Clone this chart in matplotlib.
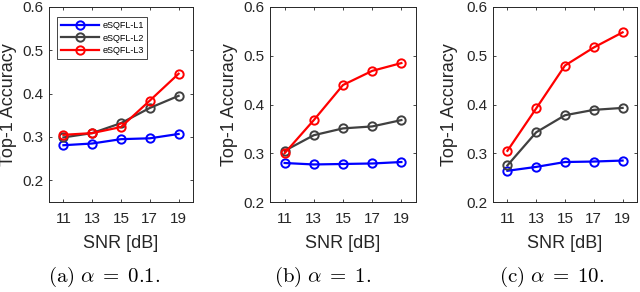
import matplotlib
matplotlib.use("Agg")
import matplotlib.pyplot as plt

plt.rcParams['font.family'] = ['Liberation Sans', 'DejaVu Sans']
plt.rcParams['mathtext.fontset'] = 'cm'

snr = [11, 13, 15, 17, 19]
labels = ['eSQFL-L1', 'eSQFL-L2', 'eSQFL-L3']
colors = ['#0000FF', '#404040', '#FF0000']

acc_a = {
    'eSQFL-L1': [0.281, 0.285, 0.295, 0.297, 0.307],
    'eSQFL-L2': [0.299, 0.309, 0.332, 0.367, 0.395],
    'eSQFL-L3': [0.305, 0.309, 0.323, 0.384, 0.446],
}
acc_b = {
    'eSQFL-L1': [0.280, 0.277, 0.278, 0.279, 0.282],
    'eSQFL-L2': [0.305, 0.337, 0.351, 0.355, 0.368],
    'eSQFL-L3': [0.300, 0.368, 0.440, 0.469, 0.485],
}
acc_c = {
    'eSQFL-L1': [0.264, 0.272, 0.282, 0.283, 0.285],
    'eSQFL-L2': [0.275, 0.343, 0.378, 0.389, 0.393],
    'eSQFL-L3': [0.305, 0.392, 0.480, 0.517, 0.548],
}
captions = [r'$\mathrm{(a)}\ \alpha\;=\;0.1.$', r'$\mathrm{(b)}\ \alpha\;=\;1.$',
            r'$\mathrm{(c)}\ \alpha\;=\;10.$']
ylims = [(0.15, 0.6), (0.2, 0.6), (0.2, 0.6)]
yticks = [0.2, 0.3, 0.4, 0.5, 0.6]

W, H = 640, 292
fig = plt.figure(figsize=(6.4, 2.92), dpi=100)

# axes boxes in pixels: left, right, top, bottom
boxes = [(49, 193, 7, 202), (270, 416, 7, 202), (493, 637, 7, 202)]
cap_x = [104, 323, 552]
ylab_x = [9, 230, 450]
datasets = [acc_a, acc_b, acc_c]

for i, (data, box) in enumerate(zip(datasets, boxes)):
    l, r, t, b = box
    ax = fig.add_axes([l / W, 1 - b / H, (r - l) / W, (b - t) / H])
    for lab, col in zip(labels, colors):
        ax.plot(snr, data[lab], color=col, lw=1.6, marker='o', ms=6,
                mfc='none', mec=col, mew=1.4, label=lab)
    ax.set_xlim(10, 20)
    ax.set_ylim(*ylims[i])
    ax.set_xticks(snr)
    ax.set_yticks(yticks)
    ax.set_yticklabels([f'{v:.1f}' for v in yticks])
    ax.tick_params(direction='in', top=True, right=True, length=2.5,
                   width=0.6, labelsize=11, colors='#262626')
    ax.tick_params(axis='x', pad=7)
    ax.tick_params(axis='y', pad=4)
    for s in ax.spines.values():
        s.set_color('#262626')
        s.set_linewidth(0.7)
    ax.set_xlabel('SNR [dB]', fontsize=13, color='#262626')
    ax.xaxis.set_label_coords(0.5, -0.17)
    ax.set_ylabel('Top-1 Accuracy', fontsize=13, color='#262626')
    ax.yaxis.set_label_coords((ylab_x[i] - l) / (r - l), 0.5)
    ax.yaxis.label.set_verticalalignment('center')
    if i == 0:
        leg = ax.legend(loc='upper left', fontsize=6.5, handlelength=4.2,
                        fancybox=False, edgecolor='#262626', framealpha=1,
                        borderpad=0.4, labelspacing=0.4, handletextpad=0.4,
                        bbox_to_anchor=(0.025, 0.97))
        leg.get_frame().set_linewidth(0.6)
    fig.text(cap_x[i] / W, 1 - 277 / H, captions[i], ha='center', va='center',
             fontsize=15)

fig.savefig('out.png', dpi=100)
